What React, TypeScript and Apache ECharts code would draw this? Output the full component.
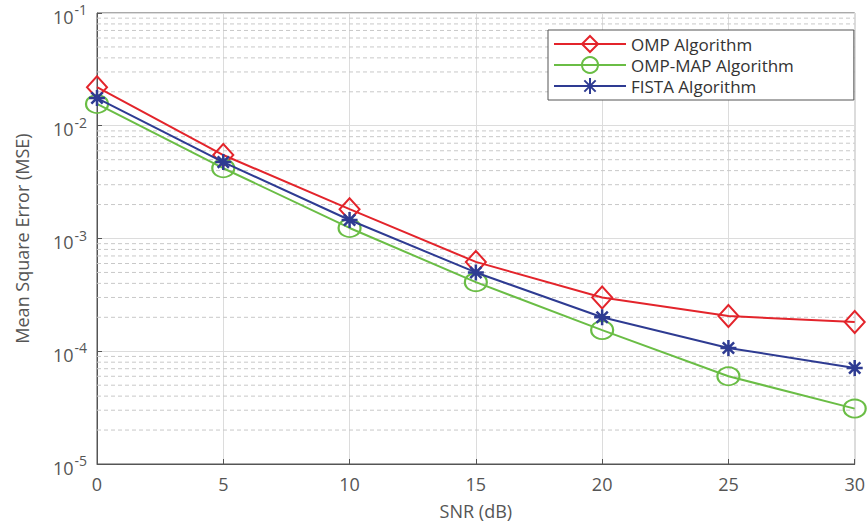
import React, { useEffect, useRef } from "react";
import * as echarts from "echarts";

const snr = [0, 5, 10, 15, 20, 25, 30];
const ompValues = [0.022, 0.0055, 0.00182, 0.00062, 0.0003, 0.000205, 0.000182];
const ompMapValues = [0.0156, 0.0042, 0.00124, 0.00041, 0.000154, 0.00006, 0.000031];
const fistaValues = [0.0176, 0.00476, 0.00146, 0.0005, 0.0002, 0.000107, 0.000071];
const seriesNames = ["OMP Algorithm", "OMP-MAP Algorithm", "FISTA Algorithm"];
const decades = [-5, -4, -3, -2];
const minorMultipliers = [2, 3, 4, 5, 6, 7, 8, 9];
const xRange = [0, 30];

const RED = "#e3242b";
const GREEN = "#6abd45";
const BLUE = "#2e3b92";

const ASTERISK = "path://M0,-10L0,10M-10,0L10,0M-7.07,-7.07L7.07,7.07M-7.07,7.07L7.07,-7.07";

export default function App() {
  const ref = useRef<HTMLDivElement>(null);
  useEffect(() => {
    if (!ref.current) return;
    const chart = echarts.init(ref.current, null, { renderer: "svg" });
    const minorSeries: any[] = [];
    decades.forEach((d) => {
      minorMultipliers.forEach((m) => {
        const v = m * Math.pow(10, d);
        minorSeries.push({
          name: "minor-" + d + "-" + m,
          type: "line",
          silent: true,
          symbol: "none",
          z: 1,
          lineStyle: { color: "#c8c8c8", type: [4, 3], width: 1 },
          data: [
            [xRange[0], v],
            [xRange[1], v],
          ],
        });
      });
    });
    const font = "Open Sans";
    chart.setOption({
      animation: false,
      backgroundColor: "#fff",
      textStyle: { fontFamily: font },
      grid: {
        left: 97,
        right: 12,
        top: 13,
        bottom: 61,
        show: true,
        borderColor: "#555",
        borderWidth: 1,
        backgroundColor: "transparent",
      },
      legend: {
        data: seriesNames,
        orient: "vertical",
        left: 548,
        top: 30,
        itemWidth: 72,
        itemHeight: 20,
        itemGap: 1,
        padding: [4, 60, 4, 5],
        borderColor: "#555",
        borderWidth: 1,
        backgroundColor: "#fff",
        textStyle: { fontSize: 17, lineHeight: 20, color: "#333", fontFamily: font },
      },
      xAxis: {
        type: "value",
        min: xRange[0],
        max: xRange[1],
        interval: 5,
        name: "SNR (dB)",
        nameLocation: "middle",
        nameGap: 38,
        nameTextStyle: { fontSize: 18, color: "#555", fontFamily: font },
        axisLine: { show: true, lineStyle: { color: "#555", width: 1 } },
        axisTick: { show: true, inside: true, length: 5, lineStyle: { color: "#555" } },
        axisLabel: { fontSize: 18, color: "#555", margin: 11, fontFamily: font },
        splitLine: { show: true, lineStyle: { color: "#dcdcdc", width: 1 } },
      },
      yAxis: {
        type: "log",
        logBase: 10,
        min: 1e-5,
        max: 1e-1,
        interval: 1,
        name: "Mean Square Error (MSE)",
        nameLocation: "middle",
        nameGap: 66,
        nameTextStyle: { fontSize: 18, color: "#555", fontFamily: font },
        axisLine: { show: true, lineStyle: { color: "#555", width: 1 } },
        axisTick: { show: true, inside: true, length: 5, lineStyle: { color: "#555" } },
        axisLabel: {
          margin: 10,
          formatter: (v: number) => {
            const e = Math.round(Math.log10(v));
            return "{b|10}{s|" + e + "}";
          },
          rich: {
            b: { fontSize: 18, color: "#555", fontFamily: font, padding: [7, 0, 0, 0] },
            s: { fontSize: 14, color: "#555", fontFamily: font, padding: [0, 0, 7, 1] },
          },
        },
        splitLine: { show: true, lineStyle: { color: "#dcdcdc", width: 1 } },
      },
      series: [
        ...minorSeries,
        {
          name: seriesNames[0],
          type: "line",
          data: snr.map((x, i) => [x, ompValues[i]]),
          symbol: "diamond",
          symbolSize: [20, 22],
          lineStyle: { color: RED, width: 2 },
          itemStyle: { color: "rgba(0,0,0,0)", borderColor: RED, borderWidth: 2 },
          z: 3,
        },
        {
          name: seriesNames[1],
          type: "line",
          data: snr.map((x, i) => [x, ompMapValues[i]]),
          symbol: "circle",
          symbolSize: [22, 18],
          lineStyle: { color: GREEN, width: 2 },
          itemStyle: { color: "rgba(0,0,0,0)", borderColor: GREEN, borderWidth: 2 },
          z: 3,
        },
        {
          name: seriesNames[2],
          type: "line",
          data: snr.map((x, i) => [x, fistaValues[i]]),
          symbol: ASTERISK,
          symbolSize: 16,
          lineStyle: { color: BLUE, width: 2 },
          itemStyle: { color: BLUE, borderColor: BLUE, borderWidth: 2.5 },
          z: 4,
        },
      ],
    });
    return () => chart.dispose();
  }, []);
  return (
    <div
      ref={ref}
      style={{ position: "fixed", left: 0, top: 0, width: 868, height: 525 }}
    />
  );
}
